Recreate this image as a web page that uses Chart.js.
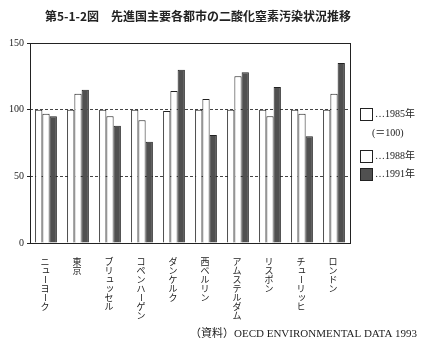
<!DOCTYPE html>
<html>
<head>
<meta charset="utf-8">
<script src="https://cdn.jsdelivr.net/npm/chart.js@4.4.0/dist/chart.umd.min.js"></script>
<style>
  body { margin: 0; background: #fff; }
  #wrap { width: 427px; height: 349px; }
</style>
</head>
<body>
<div id="wrap"><canvas id="chart" width="427" height="349"></canvas></div>
<script>
// data (1985 = 100)
const cities = ['ニューヨーク', '東京', 'ブリュッセル', 'コペンハーゲン', 'ダンケルク',
  '西ベルリン', 'アムステルダム', 'リスボン', 'チューリッヒ', 'ロンドン'];
const y1985 = [100, 100, 100, 100, 99, 100, 100, 100, 100, 100];
const y1988 = [97, 112, 95, 92, 114, 108, 125, 95, 97, 112];
const y1991 = [95, 115, 88, 76, 130, 81, 128, 117, 80, 135];
const seriesNames = ['…1985年', '…1988年', '…1991年'];
const yTicks = [0, 50, 100, 150];

const titleText = '第5-1-2図　先進国主要各都市の二酸化窒素汚染状況推移';
const sourceText = '（資料）OECD ENVIRONMENTAL DATA 1993';

const ink = '#222';
const dark = '#505050';

// frame around plot area, title, source line
const decorations = {
  id: 'decorations',
  afterDraw(chart) {
    const ctx = chart.ctx;
    const a = chart.chartArea;
    ctx.save();
    ctx.strokeStyle = ink;
    ctx.lineWidth = 1;
    ctx.strokeRect(Math.round(a.left) + 0.5, Math.round(a.top) + 0.5,
      Math.round(a.right - a.left), Math.round(a.bottom - a.top));

    ctx.fillStyle = ink;
    ctx.textBaseline = 'middle';
    ctx.textAlign = 'left';
    ctx.font = 'bold 12px "Noto Sans CJK JP"';
    ctx.fillText(titleText, 45, 16);

    ctx.font = '11px "Liberation Serif", "Noto Sans CJK JP"';
    ctx.fillText(sourceText, 190, 334);
    ctx.restore();
  }
};

// city names written top to bottom under each group
const verticalLabels = {
  id: 'verticalLabels',
  afterDraw(chart) {
    const ctx = chart.ctx;
    const x = chart.scales.x;
    ctx.save();
    ctx.fillStyle = ink;
    ctx.font = '9px "Noto Sans CJK JP"';
    ctx.textAlign = 'center';
    ctx.textBaseline = 'middle';
    cities.forEach((name, i) => {
      const cx = x.getPixelForTick(i) - 1;
      [...name].forEach((ch, j) => {
        const cy = x.top + 18.5 + j * 9;
        if (ch === 'ー') {
          ctx.save();
          ctx.translate(cx, cy);
          ctx.rotate(Math.PI / 2);
          ctx.fillText(ch, 0, 0);
          ctx.restore();
        } else if ('ュッョ'.includes(ch)) {
          ctx.fillText(ch, cx + 1, cy - 1);
        } else {
          ctx.fillText(ch, cx, cy);
        }
      });
    });
    ctx.restore();
  }
};

// legend at the right with the (=100) note
const sideLegend = {
  id: 'sideLegend',
  afterDraw(chart) {
    const ctx = chart.ctx;
    const left = chart.chartArea.right + 10;
    const rows = [108, 150, 168];
    ctx.save();
    ctx.font = '10px "Liberation Serif", "Noto Sans CJK JP"';
    ctx.textBaseline = 'middle';
    ctx.textAlign = 'left';
    chart.data.datasets.forEach((ds, i) => {
      const top = rows[i];
      ctx.fillStyle = ds.backgroundColor;
      ctx.fillRect(left, top, 12, 12);
      ctx.strokeStyle = ink;
      ctx.lineWidth = 1;
      ctx.strokeRect(left + 0.5, top + 0.5, 12, 12);
      ctx.fillStyle = ink;
      ctx.fillText(ds.label, left + 15, top + 6);
    });
    ctx.fillText('(＝100)', left + 12, 133);
    ctx.restore();
  }
};

const ctx = document.getElementById('chart').getContext('2d');
new Chart(ctx, {
  type: 'bar',
  data: {
    labels: cities,
    datasets: [
      { label: seriesNames[0], data: y1985, backgroundColor: '#fff', borderColor: ink, borderWidth: 1 },
      { label: seriesNames[1], data: y1988, backgroundColor: '#fff', borderColor: ink, borderWidth: 1 },
      { label: seriesNames[2], data: y1991, backgroundColor: dark, borderColor: ink, borderWidth: 1 }
    ]
  },
  options: {
    responsive: false,
    animation: false,
    categoryPercentage: 0.68,
    barPercentage: 1,
    layout: { padding: { top: 43, right: 77, left: 0, bottom: 0 } },
    plugins: {
      legend: { display: false },
      title: { display: false },
      tooltip: { enabled: false }
    },
    scales: {
      x: {
        grid: { display: false },
        border: { display: false },
        ticks: { display: false },
        afterFit(scale) { scale.height = 106; }
      },
      y: {
        min: 0,
        max: 150,
        afterBuildTicks(scale) { scale.ticks = yTicks.map(v => ({ value: v })); },
        afterFit(scale) { scale.width = 30; },
        border: { display: false, dash: [3, 2] },
        grid: {
          color: c => (c.tick && (c.tick.value === 50 || c.tick.value === 100)) ? '#444' : 'rgba(0,0,0,0)',
          tickColor: ink,
          tickLength: 3,
          lineWidth: 1
        },
        ticks: {
          padding: 3,
          color: ink,
          font: { family: '"Liberation Serif"', size: 10 }
        }
      }
    }
  },
  plugins: [decorations, verticalLabels, sideLegend]
});
</script>
</body>
</html>
